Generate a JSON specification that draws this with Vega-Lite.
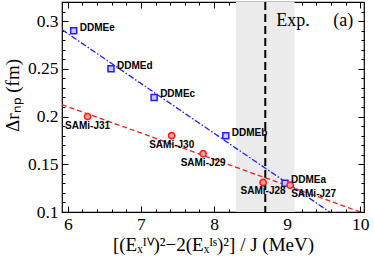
{
  "$schema": "https://vega.github.io/schema/vega-lite/v6.json",
  "width": 302,
  "height": 210,
  "autosize": {"type": "none"},
  "padding": {"left": 62, "top": 2, "right": 10, "bottom": 48},
  "background": "white",
  "config": {
    "view": {"stroke": "black", "strokeWidth": 1.2},
    "font": "Liberation Serif",
    "axis": {"grid": false, "domain": false, "tickColor": "black", "labelColor": "black", "titleColor": "black", "labelFont": "Liberation Serif", "titleFont": "Liberation Serif", "labelFontSize": 17.5, "titleFontSize": 19, "titleFontWeight": "normal"}
  },
  "datasets": {
    "band": [{"lo": 8.3, "hi": 9.1, "exp": 8.7}],
    "blue": [{"x": 5.92, "y": 0.291}, {"x": 9.58, "y": 0.1}],
    "red": [{"x": 5.92, "y": 0.2125}, {"x": 10.0, "y": 0.1}],
    "pts": [
      {"model": "DDMEe", "family": "DDME", "x": 6.08, "y": 0.29},
      {"model": "DDMEd", "family": "DDME", "x": 6.59, "y": 0.25},
      {"model": "DDMEc", "family": "DDME", "x": 7.18, "y": 0.22},
      {"model": "DDMEb", "family": "DDME", "x": 8.16, "y": 0.18},
      {"model": "DDMEa", "family": "DDME", "x": 8.97, "y": 0.13},
      {"model": "SAMi-J31", "family": "SAMi", "x": 6.27, "y": 0.2},
      {"model": "SAMi-J30", "family": "SAMi", "x": 7.42, "y": 0.18},
      {"model": "SAMi-J29", "family": "SAMi", "x": 7.85, "y": 0.161},
      {"model": "SAMi-J28", "family": "SAMi", "x": 8.67, "y": 0.131},
      {"model": "SAMi-J27", "family": "SAMi", "x": 9.04, "y": 0.128}
    ],
    "notes": [
      {"text": "Exp.", "x": 8.85, "y": 0.3},
      {"text": "(a)", "x": 9.63, "y": 0.3}
    ]
  },
  "layer": [
    {
      "data": {"name": "band"},
      "mark": {"type": "rect", "color": "#ebebeb"},
      "encoding": {
        "x": {"field": "lo", "type": "quantitative", "scale": {"domain": [5.92, 10.05], "nice": false, "zero": false},
          "axis": {"orient": "bottom", "values": [6, 7, 8, 9, 10], "format": "d", "tickSize": -6, "labelPadding": 9, "title": "[(Eₓᴵⱽ)²−2(Eₓᴵˢ)²] / J  (MeV)", "titlePadding": 3}},
        "x2": {"field": "hi"}
      }
    },
    {
      "data": {"name": "band"},
      "mark": {"type": "rule", "color": "black", "strokeWidth": 2, "strokeDash": [8, 4]},
      "encoding": {
        "x": {"field": "exp", "type": "quantitative", "axis": {"orient": "top", "values": [6, 7, 8, 9, 10], "labels": false, "tickSize": -6, "title": null}}
      }
    },
    {
      "data": {"name": "blue"},
      "mark": {"type": "line", "color": "#1f1fff", "strokeWidth": 1.3, "strokeDash": [6, 2, 1.5, 2], "clip": true},
      "encoding": {
        "x": {"field": "x", "type": "quantitative", "axis": {"orient": "bottom", "values": [6.2, 6.4, 6.6, 6.8, 7.2, 7.4, 7.6, 7.8, 8.2, 8.4, 8.6, 8.8, 9.2, 9.4, 9.6, 9.8], "labels": false, "tickSize": -3, "title": null}},
        "y": {"field": "y", "type": "quantitative", "scale": {"domain": [0.1, 0.32], "nice": false, "zero": false},
          "axis": {"orient": "left", "values": [0.1, 0.15, 0.2, 0.25, 0.3], "format": "~g", "tickSize": -6, "labelPadding": 10, "title": "Δrₙₚ  (fm)", "titlePadding": 5, "titleY": 93}}
      }
    },
    {
      "data": {"name": "red"},
      "mark": {"type": "line", "color": "#ff1a1a", "strokeWidth": 1.3, "strokeDash": [5, 3], "clip": true},
      "encoding": {
        "x": {"field": "x", "type": "quantitative", "axis": {"orient": "top", "values": [6.2, 6.4, 6.6, 6.8, 7.2, 7.4, 7.6, 7.8, 8.2, 8.4, 8.6, 8.8, 9.2, 9.4, 9.6, 9.8], "labels": false, "tickSize": -3, "title": null}},
        "y": {"field": "y", "type": "quantitative", "axis": {"orient": "right", "values": [0.1, 0.15, 0.2, 0.25, 0.3], "labels": false, "tickSize": -6, "title": null}}
      }
    },
    {
      "data": {"name": "pts"},
      "transform": [{"filter": "datum.family === 'DDME'"}],
      "mark": {"type": "square", "size": 36, "stroke": "#1f1fff", "strokeWidth": 1.5, "fill": "#c9c9ff", "fillOpacity": 1},
      "encoding": {
        "x": {"field": "x", "type": "quantitative", "axis": null},
        "y": {"field": "y", "type": "quantitative", "axis": {"orient": "left", "values": [0.11, 0.12, 0.13, 0.14, 0.16, 0.17, 0.18, 0.19, 0.21, 0.22, 0.23, 0.24, 0.26, 0.27, 0.28, 0.29, 0.31], "labels": false, "tickSize": -3, "title": null}}
      }
    },
    {
      "data": {"name": "pts"},
      "transform": [{"filter": "datum.family === 'SAMi'"}],
      "mark": {"type": "circle", "size": 40, "stroke": "#ff1a1a", "strokeWidth": 1.5, "fill": "#ff9a9a", "fillOpacity": 1},
      "encoding": {
        "x": {"field": "x", "type": "quantitative", "axis": null},
        "y": {"field": "y", "type": "quantitative", "axis": {"orient": "right", "values": [0.11, 0.12, 0.13, 0.14, 0.16, 0.17, 0.18, 0.19, 0.21, 0.22, 0.23, 0.24, 0.26, 0.27, 0.28, 0.29, 0.31], "labels": false, "tickSize": -3, "title": null}}
      }
    },
    {
      "data": {"name": "pts"},
      "transform": [{"filter": "datum.family === 'DDME'"}],
      "mark": {"type": "text", "font": "Liberation Sans", "fontWeight": "bold", "fontSize": 10, "align": "left", "baseline": "middle", "dx": 6, "dy": -3, "color": "black"},
      "encoding": {
        "x": {"field": "x", "type": "quantitative", "axis": null},
        "y": {"field": "y", "type": "quantitative", "axis": null},
        "text": {"field": "model"}
      }
    },
    {
      "data": {"name": "pts"},
      "transform": [{"filter": "datum.family === 'SAMi' && datum.model !== 'SAMi-J27'"}],
      "mark": {"type": "text", "font": "Liberation Sans", "fontWeight": "bold", "fontSize": 10, "align": "center", "baseline": "middle", "dx": 0, "dy": 9, "color": "black"},
      "encoding": {
        "x": {"field": "x", "type": "quantitative", "axis": null},
        "y": {"field": "y", "type": "quantitative", "axis": null},
        "text": {"field": "model"}
      }
    },
    {
      "data": {"name": "pts"},
      "transform": [{"filter": "datum.model === 'SAMi-J27'"}],
      "mark": {"type": "text", "font": "Liberation Sans", "fontWeight": "bold", "fontSize": 10, "align": "left", "baseline": "middle", "dx": 1, "dy": 9, "color": "black"},
      "encoding": {
        "x": {"field": "x", "type": "quantitative", "axis": null},
        "y": {"field": "y", "type": "quantitative", "axis": null},
        "text": {"field": "model"}
      }
    },
    {
      "data": {"name": "notes"},
      "mark": {"type": "text", "font": "Liberation Serif", "fontSize": 18, "align": "left", "baseline": "middle", "color": "black"},
      "encoding": {
        "x": {"field": "x", "type": "quantitative", "axis": null},
        "y": {"field": "y", "type": "quantitative", "axis": null},
        "text": {"field": "text"}
      }
    }
  ],
  "resolve": {"axis": {"x": "independent", "y": "independent"}}
}
